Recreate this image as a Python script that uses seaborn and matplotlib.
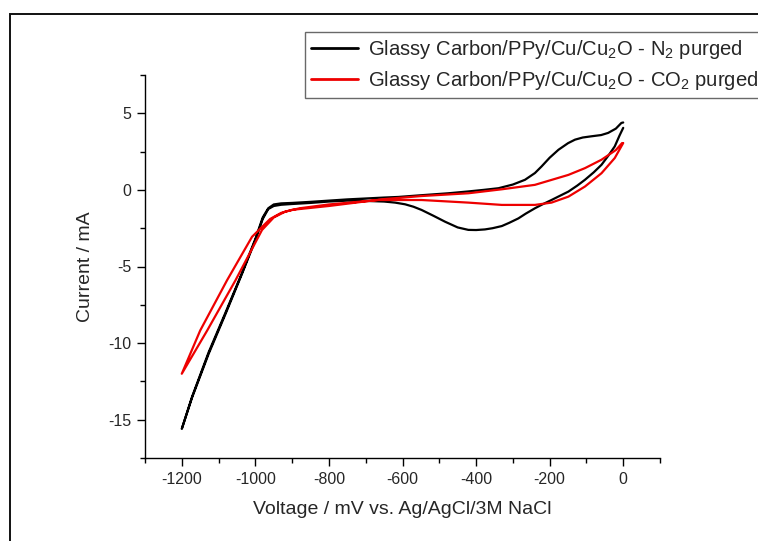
import numpy as np
import pandas as pd
import matplotlib
matplotlib.use("Agg")
import matplotlib.pyplot as plt
from matplotlib.patches import Rectangle
import seaborn as sns

# ---- data ----
n2_voltage = [0, -10, -23, -40, -59, -80, -104, -125, -149, -175, -195, -220, -240, -265,
              -285, -310, -330, -355, -376, -400, -421, -450, -484, -515, -548, -570, -593,
              -620, -650, -700, -750, -800, -850, -900, -930, -950, -965, -980, -1000,
              -1036, -1081, -1127, -1172, -1200,
              -1172, -1127, -1081, -1036, -1000, -980, -965, -950, -930, -900, -850, -800,
              -750, -700, -650, -611, -550, -475, -421, -380, -339, -300, -267, -240, -222,
              -200, -176, -150, -131, -110, -86, -60, -41, -20, -5, 0]
n2_current = [4.05, 3.55, 2.84, 2.25, 1.64, 1.15, 0.66, 0.28, -0.11, -0.42, -0.66, -0.95,
              -1.2, -1.55, -1.86, -2.15, -2.36, -2.5, -2.58, -2.62, -2.61, -2.45, -2.08,
              -1.7, -1.31, -1.1, -0.94, -0.83, -0.76, -0.72, -0.7, -0.76, -0.85, -0.92,
              -0.97, -1.05, -1.25, -1.9, -3.28, -5.46, -8.09, -10.7, -13.55, -15.6,
              -13.5, -10.6, -8.0, -5.4, -3.2, -1.8, -1.2, -0.95, -0.88, -0.85, -0.78, -0.7,
              -0.62, -0.56, -0.5, -0.46, -0.35, -0.22, -0.1, 0.0, 0.11, 0.35, 0.66, 1.1,
              1.53, 2.1, 2.62, 3.05, 3.28, 3.42, 3.5, 3.58, 3.72, 4.0, 4.37, 4.4]

co2_voltage = [0, -23, -59, -104, -149, -195, -240, -285, -330, -421, -548, -665, -800,
               -880, -919, -950, -982, -1054, -1131, -1200,
               -1150, -1077, -1009, -960, -930, -900, -800, -700, -650, -548, -421, -330,
               -240, -149, -104, -59, -20, -3]
co2_current = [3.06, 2.08, 1.09, 0.22, -0.44, -0.83, -0.98, -0.98, -0.98, -0.83, -0.66,
               -0.66, -0.95, -1.2, -1.42, -1.8, -2.62, -5.9, -9.18, -12.0,
               -9.18, -5.9, -3.06, -1.9, -1.5, -1.3, -1.05, -0.75, -0.6, -0.4, -0.22, 0.04,
               0.33, 0.98, 1.42, 1.97, 2.6, 3.06]

labels = ["Glassy Carbon/PPy/Cu/Cu$_2$O - N$_2$ purged",
          "Glassy Carbon/PPy/Cu/Cu$_2$O - CO$_2$ purged"]
x_ticks = [-1200, -1000, -800, -600, -400, -200, 0]
y_ticks = [5, 0, -5, -10, -15]

# ---- style ----
sns.set_style("white")
plt.rcParams["font.family"] = ["Liberation Sans", "DejaVu Sans"]
plt.rcParams["mathtext.fontset"] = "custom"
plt.rcParams["mathtext.rm"] = "Liberation Sans"
plt.rcParams["mathtext.default"] = "regular"
plt.rcParams["axes.unicode_minus"] = False

fig = plt.figure(figsize=(7.58, 5.41), dpi=100)
ax = fig.add_axes([145 / 758, 1 - 458 / 541, (660 - 145) / 758, (458 - 75) / 541])

df_n2 = pd.DataFrame({"V": n2_voltage, "I": n2_current})
df_co2 = pd.DataFrame({"V": co2_voltage, "I": co2_current})

sns.lineplot(data=df_n2, x="V", y="I", sort=False, estimator=None, color="black",
             lw=1.6, ax=ax, label=labels[0])
sns.lineplot(data=df_co2, x="V", y="I", sort=False, estimator=None, color="#ee0000",
             lw=1.6, ax=ax, label=labels[1])

ax.set_xlim(-1300, 100)
ax.set_ylim(-17.5, 7.5)
ax.set_xticks(x_ticks)
ax.set_yticks(y_ticks)
ax.set_xticks(np.arange(-1300, 101, 100), minor=True)
ax.set_yticks(np.arange(-17.5, 7.6, 2.5), minor=True)
ax.tick_params(axis="both", which="major", direction="out", length=6, width=1,
               labelsize=11.5, pad=4, color="black", left=True, bottom=True)
ax.tick_params(axis="both", which="minor", direction="out", length=3.5, width=1,
               color="black", left=True, bottom=True)
for s in ["top", "right"]:
    ax.spines[s].set_visible(False)
for s in ["left", "bottom"]:
    ax.spines[s].set_color("black")
    ax.spines[s].set_linewidth(1.0)

ax.set_xlabel("Voltage / mV vs. Ag/AgCl/3M NaCl", fontsize=14, labelpad=10)
ax.set_ylabel("Current / mA", fontsize=14, labelpad=10)

leg = ax.legend(loc="upper left", bbox_to_anchor=(305 / 758, 1 - 32 / 541),
                bbox_transform=fig.transFigure, fontsize=14.6, frameon=True,
                fancybox=False, shadow=False, handlelength=2.3, handletextpad=0.5,
                borderpad=0.3, labelspacing=0.38, borderaxespad=0)
leg.get_frame().set_edgecolor("#444444")
leg.get_frame().set_linewidth(1.0)
for line in leg.get_lines():
    line.set_linewidth(2.0)

# outer frame (left and top edges visible, others cropped)
fig.patches.append(Rectangle((9.8 / 758, -0.2), 1.5, 1.2 - 13.5 / 541,
                             transform=fig.transFigure, fill=False,
                             edgecolor="#111111", linewidth=1.4, clip_on=False))

fig.savefig("out.png", dpi=100)
